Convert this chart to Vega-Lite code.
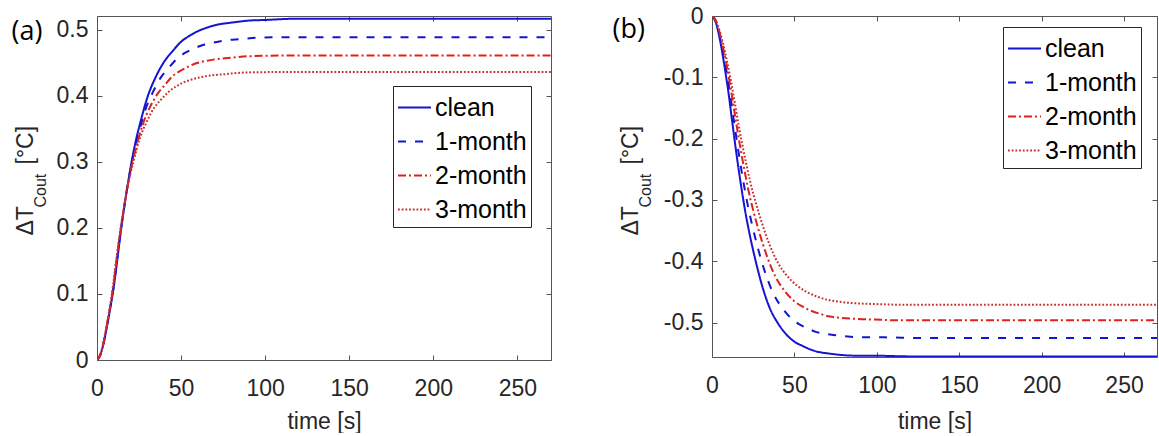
{
"$schema":"https://vega.github.io/schema/vega-lite/v6.json",
"background":"white",
"autosize":{"type":"pad"},
"padding":{"left":11,"top":5,"right":0,"bottom":0},
"spacing":58,
"config":{
"font":"Liberation Sans",
"view":{"stroke":null},
"axis":{"grid":false,"labelFont":"Liberation Sans","labelFontSize":23,"labelColor":"#262626","titleFont":"Liberation Sans","titleFontSize":23,"titleColor":"#262626","titleFontWeight":"normal","domainColor":"#555555","tickColor":"#555555","domainWidth":1,"tickWidth":1,"labelFlush":false,"labelOverlap":false},
"legend":{"symbolType":"stroke","symbolSize":1089,"symbolStrokeWidth":2,"labelFont":"Liberation Sans","labelFontSize":25,"labelColor":"#000000","padding":4,"strokeColor":"#262626","fillColor":"#ffffff","rowPadding":3,"labelOffset":3,"cornerRadius":0}
},
"datasets":{
"a":[
{"s":"clean","t":0,"v":0},{"s":"clean","t":2,"v":0.008},{"s":"clean","t":4,"v":0.026},{"s":"clean","t":6,"v":0.052},{"s":"clean","t":8,"v":0.080},{"s":"clean","t":10,"v":0.111},{"s":"clean","t":12,"v":0.150},{"s":"clean","t":14,"v":0.191},{"s":"clean","t":16,"v":0.228},{"s":"clean","t":18,"v":0.261},{"s":"clean","t":20,"v":0.292},{"s":"clean","t":23,"v":0.331},{"s":"clean","t":26,"v":0.362},{"s":"clean","t":30,"v":0.398},{"s":"clean","t":35,"v":0.429},{"s":"clean","t":40,"v":0.452},{"s":"clean","t":45,"v":0.468},{"s":"clean","t":50,"v":0.482},{"s":"clean","t":55,"v":0.491},{"s":"clean","t":60,"v":0.498},{"s":"clean","t":65,"v":0.503},{"s":"clean","t":70,"v":0.507},{"s":"clean","t":80,"v":0.511},{"s":"clean","t":90,"v":0.514},{"s":"clean","t":100,"v":0.515},{"s":"clean","t":120,"v":0.517},{"s":"clean","t":270,"v":0.517},
{"s":"1-month","t":0,"v":0},{"s":"1-month","t":1.9,"v":0.007},{"s":"1-month","t":3.8,"v":0.024},{"s":"1-month","t":5.7,"v":0.049},{"s":"1-month","t":7.6,"v":0.076},{"s":"1-month","t":9.5,"v":0.105},{"s":"1-month","t":11.4,"v":0.142},{"s":"1-month","t":13.3,"v":0.181},{"s":"1-month","t":15.2,"v":0.215},{"s":"1-month","t":17.1,"v":0.247},{"s":"1-month","t":19,"v":0.276},{"s":"1-month","t":21.9,"v":0.313},{"s":"1-month","t":24.7,"v":0.342},{"s":"1-month","t":28.5,"v":0.377},{"s":"1-month","t":33.3,"v":0.406},{"s":"1-month","t":38,"v":0.428},{"s":"1-month","t":42.8,"v":0.443},{"s":"1-month","t":47.5,"v":0.456},{"s":"1-month","t":52.3,"v":0.465},{"s":"1-month","t":57,"v":0.471},{"s":"1-month","t":61.8,"v":0.476},{"s":"1-month","t":66.5,"v":0.479},{"s":"1-month","t":76,"v":0.484},{"s":"1-month","t":85.5,"v":0.486},{"s":"1-month","t":95,"v":0.488},{"s":"1-month","t":114,"v":0.489},{"s":"1-month","t":270,"v":0.489},
{"s":"2-month","t":0,"v":0},{"s":"2-month","t":1.8,"v":0.007},{"s":"2-month","t":3.6,"v":0.023},{"s":"2-month","t":5.4,"v":0.046},{"s":"2-month","t":7.2,"v":0.071},{"s":"2-month","t":9,"v":0.099},{"s":"2-month","t":10.8,"v":0.134},{"s":"2-month","t":12.6,"v":0.171},{"s":"2-month","t":14.4,"v":0.203},{"s":"2-month","t":16.2,"v":0.233},{"s":"2-month","t":18,"v":0.260},{"s":"2-month","t":20.7,"v":0.295},{"s":"2-month","t":23.4,"v":0.323},{"s":"2-month","t":27,"v":0.355},{"s":"2-month","t":31.5,"v":0.383},{"s":"2-month","t":36,"v":0.403},{"s":"2-month","t":40.5,"v":0.417},{"s":"2-month","t":45,"v":0.430},{"s":"2-month","t":49.5,"v":0.438},{"s":"2-month","t":54,"v":0.444},{"s":"2-month","t":58.5,"v":0.449},{"s":"2-month","t":63,"v":0.452},{"s":"2-month","t":72,"v":0.456},{"s":"2-month","t":81,"v":0.458},{"s":"2-month","t":90,"v":0.460},{"s":"2-month","t":108,"v":0.461},{"s":"2-month","t":270,"v":0.461},
{"s":"3-month","t":0,"v":0},{"s":"3-month","t":1.7,"v":0.007},{"s":"3-month","t":3.4,"v":0.022},{"s":"3-month","t":5.1,"v":0.044},{"s":"3-month","t":6.8,"v":0.068},{"s":"3-month","t":8.5,"v":0.094},{"s":"3-month","t":10.2,"v":0.126},{"s":"3-month","t":11.9,"v":0.161},{"s":"3-month","t":13.6,"v":0.192},{"s":"3-month","t":15.3,"v":0.220},{"s":"3-month","t":17,"v":0.246},{"s":"3-month","t":19.6,"v":0.279},{"s":"3-month","t":22.1,"v":0.305},{"s":"3-month","t":25.5,"v":0.336},{"s":"3-month","t":29.8,"v":0.362},{"s":"3-month","t":34,"v":0.382},{"s":"3-month","t":38.3,"v":0.395},{"s":"3-month","t":42.5,"v":0.406},{"s":"3-month","t":46.8,"v":0.414},{"s":"3-month","t":51,"v":0.420},{"s":"3-month","t":55.3,"v":0.424},{"s":"3-month","t":59.5,"v":0.427},{"s":"3-month","t":68,"v":0.431},{"s":"3-month","t":76.5,"v":0.433},{"s":"3-month","t":85,"v":0.435},{"s":"3-month","t":102,"v":0.436},{"s":"3-month","t":270,"v":0.436}
],
"b":[
{"s":"clean","t":0,"v":0},{"s":"clean","t":2,"v":-0.008},{"s":"clean","t":4,"v":-0.028},{"s":"clean","t":6,"v":-0.056},{"s":"clean","t":8,"v":-0.089},{"s":"clean","t":10,"v":-0.125},{"s":"clean","t":12,"v":-0.167},{"s":"clean","t":14,"v":-0.208},{"s":"clean","t":16,"v":-0.247},{"s":"clean","t":18,"v":-0.283},{"s":"clean","t":20,"v":-0.316},{"s":"clean","t":23,"v":-0.358},{"s":"clean","t":26,"v":-0.394},{"s":"clean","t":30,"v":-0.436},{"s":"clean","t":35,"v":-0.476},{"s":"clean","t":40,"v":-0.501},{"s":"clean","t":45,"v":-0.519},{"s":"clean","t":50,"v":-0.531},{"s":"clean","t":55,"v":-0.538},{"s":"clean","t":60,"v":-0.544},{"s":"clean","t":65,"v":-0.548},{"s":"clean","t":70,"v":-0.550},{"s":"clean","t":80,"v":-0.553},{"s":"clean","t":90,"v":-0.554},{"s":"clean","t":100,"v":-0.554},{"s":"clean","t":120,"v":-0.555},{"s":"clean","t":270,"v":-0.555},
{"s":"1-month","t":0,"v":0},{"s":"1-month","t":2.1,"v":-0.008},{"s":"1-month","t":4.2,"v":-0.026},{"s":"1-month","t":6.3,"v":-0.053},{"s":"1-month","t":8.4,"v":-0.084},{"s":"1-month","t":10.5,"v":-0.118},{"s":"1-month","t":12.6,"v":-0.158},{"s":"1-month","t":14.7,"v":-0.197},{"s":"1-month","t":16.8,"v":-0.234},{"s":"1-month","t":18.9,"v":-0.268},{"s":"1-month","t":21,"v":-0.299},{"s":"1-month","t":24.2,"v":-0.339},{"s":"1-month","t":27.3,"v":-0.373},{"s":"1-month","t":31.5,"v":-0.412},{"s":"1-month","t":36.8,"v":-0.450},{"s":"1-month","t":42,"v":-0.474},{"s":"1-month","t":47.3,"v":-0.491},{"s":"1-month","t":52.5,"v":-0.502},{"s":"1-month","t":57.8,"v":-0.509},{"s":"1-month","t":63,"v":-0.515},{"s":"1-month","t":68.3,"v":-0.518},{"s":"1-month","t":73.5,"v":-0.520},{"s":"1-month","t":84,"v":-0.523},{"s":"1-month","t":94.5,"v":-0.524},{"s":"1-month","t":105,"v":-0.524},{"s":"1-month","t":126,"v":-0.525},{"s":"1-month","t":270,"v":-0.525},
{"s":"2-month","t":0,"v":0},{"s":"2-month","t":2.2,"v":-0.007},{"s":"2-month","t":4.4,"v":-0.025},{"s":"2-month","t":6.6,"v":-0.050},{"s":"2-month","t":8.8,"v":-0.079},{"s":"2-month","t":11,"v":-0.112},{"s":"2-month","t":13.2,"v":-0.149},{"s":"2-month","t":15.4,"v":-0.186},{"s":"2-month","t":17.6,"v":-0.221},{"s":"2-month","t":19.8,"v":-0.253},{"s":"2-month","t":22,"v":-0.283},{"s":"2-month","t":25.3,"v":-0.320},{"s":"2-month","t":28.6,"v":-0.352},{"s":"2-month","t":33,"v":-0.389},{"s":"2-month","t":38.5,"v":-0.425},{"s":"2-month","t":44,"v":-0.448},{"s":"2-month","t":49.5,"v":-0.464},{"s":"2-month","t":55,"v":-0.474},{"s":"2-month","t":60.5,"v":-0.481},{"s":"2-month","t":66,"v":-0.486},{"s":"2-month","t":71.5,"v":-0.490},{"s":"2-month","t":77,"v":-0.492},{"s":"2-month","t":88,"v":-0.494},{"s":"2-month","t":99,"v":-0.495},{"s":"2-month","t":110,"v":-0.496},{"s":"2-month","t":132,"v":-0.496},{"s":"2-month","t":270,"v":-0.496},
{"s":"3-month","t":0,"v":0},{"s":"3-month","t":2.3,"v":-0.007},{"s":"3-month","t":4.6,"v":-0.024},{"s":"3-month","t":6.9,"v":-0.047},{"s":"3-month","t":9.2,"v":-0.075},{"s":"3-month","t":11.5,"v":-0.106},{"s":"3-month","t":13.8,"v":-0.141},{"s":"3-month","t":16.1,"v":-0.177},{"s":"3-month","t":18.4,"v":-0.210},{"s":"3-month","t":20.7,"v":-0.240},{"s":"3-month","t":23,"v":-0.268},{"s":"3-month","t":26.5,"v":-0.304},{"s":"3-month","t":29.9,"v":-0.334},{"s":"3-month","t":34.5,"v":-0.370},{"s":"3-month","t":40.3,"v":-0.404},{"s":"3-month","t":46,"v":-0.425},{"s":"3-month","t":51.8,"v":-0.440},{"s":"3-month","t":57.5,"v":-0.450},{"s":"3-month","t":63.3,"v":-0.457},{"s":"3-month","t":69,"v":-0.462},{"s":"3-month","t":74.8,"v":-0.465},{"s":"3-month","t":80.5,"v":-0.467},{"s":"3-month","t":92,"v":-0.469},{"s":"3-month","t":103.5,"v":-0.470},{"s":"3-month","t":115,"v":-0.471},{"s":"3-month","t":138,"v":-0.471},{"s":"3-month","t":270,"v":-0.471}
]
},
"resolve":{"scale":{"color":"independent","strokeDash":"independent"},"legend":{"color":"independent","strokeDash":"independent"}},
"hconcat":[
{
"width":454,"height":344,
"data":{"name":"a"},
"resolve":{"scale":{"x":"independent","y":"independent"}},
"layer":[
{"mark":{"type":"line","strokeWidth":2,"interpolate":"monotone","clip":true},
"encoding":{
"x":{"field":"t","type":"quantitative","scale":{"domain":[0,270],"nice":false,"zero":false},"axis":{"orient":"bottom","values":[0,50,100,150,200,250],"format":"d","title":"time [s]","tickSize":-5,"labelPadding":22,"titleX":227,"titleY":68,"titleAlign":"center","titleBaseline":"alphabetic"}},
"y":{"field":"v","type":"quantitative","scale":{"domain":[0,0.521],"nice":false,"zero":false},"axis":{"orient":"left","values":[0,0.1,0.2,0.3,0.4,0.5],"format":"~g","title":"ΔT","tickSize":-5,"labelPadding":14,"titleX":-65,"titleY":219,"titleAlign":"left","titleBaseline":"alphabetic","titleAngle":270}},
"color":{"field":"s","type":"nominal","scale":{"domain":["clean","1-month","2-month","3-month"],"range":["#1414d2","#1414d2","#e02020","#c8302c"]},"legend":{"orient":"none","legendX":296,"legendY":70,"title":null}},
"strokeDash":{"field":"s","type":"nominal","scale":{"domain":["clean","1-month","2-month","3-month"],"range":[[1,0],[8,9],[8,3,2,3],[1.8,1.9]]},"legend":{"orient":"none","legendX":296,"legendY":70,"title":null}}
}},
{"mark":{"type":"point","opacity":0},
"encoding":{
"x":{"field":"t","type":"quantitative","scale":{"domain":[0,270],"nice":false,"zero":false},"axis":{"orient":"top","values":[0,50,100,150,200,250],"labels":false,"tickSize":-5,"title":"(a)","titleFont":"Open Sans","titleFontSize":27,"titleColor":"#000000","titleAngle":0,"titleX":-86,"titleY":23,"titleAlign":"left","titleBaseline":"alphabetic"}},
"y":{"field":"v","type":"quantitative","scale":{"domain":[0,0.521],"nice":false,"zero":false},"axis":{"orient":"right","values":[0,0.1,0.2,0.3,0.4,0.5],"labels":false,"tickSize":-5,"title":null}}
}},
{"mark":{"type":"point","opacity":0},
"encoding":{
"x":{"field":"t","type":"quantitative","scale":{"domain":[0,270],"nice":false,"zero":false},"axis":null},
"y":{"field":"v","type":"quantitative","scale":{"domain":[0,0.521],"nice":false,"zero":false},"axis":{"orient":"left","labels":false,"ticks":false,"domain":false,"title":"Cout","titleFontSize":16,"titleX":-52,"titleY":191,"titleAlign":"left","titleBaseline":"alphabetic","titleAngle":270}}
}},
{"mark":{"type":"point","opacity":0},
"encoding":{
"x":{"field":"t","type":"quantitative","scale":{"domain":[0,270],"nice":false,"zero":false},"axis":null},
"y":{"field":"v","type":"quantitative","scale":{"domain":[0,0.521],"nice":false,"zero":false},"axis":{"orient":"left","labels":false,"ticks":false,"domain":false,"title":"[°C]","titleX":-65,"titleY":148,"titleAlign":"left","titleBaseline":"alphabetic","titleAngle":270}}
}}
]
},
{
"width":445,"height":341,
"data":{"name":"b"},
"resolve":{"scale":{"x":"independent","y":"independent"}},
"layer":[
{"mark":{"type":"line","strokeWidth":2,"interpolate":"monotone","clip":true},
"encoding":{
"x":{"field":"t","type":"quantitative","scale":{"domain":[0,270],"nice":false,"zero":false},"axis":{"orient":"bottom","values":[0,50,100,150,200,250],"format":"d","title":"time [s]","tickSize":-5,"labelPadding":22,"titleX":222.5,"titleY":71,"titleAlign":"center","titleBaseline":"alphabetic"}},
"y":{"field":"v","type":"quantitative","scale":{"domain":[-0.556,0],"nice":false,"zero":false},"axis":{"orient":"left","values":[0,-0.1,-0.2,-0.3,-0.4,-0.5],"labelExpr":"replace(format(datum.value,'~g'),'−','-')","title":"ΔT","tickSize":-5,"labelPadding":14,"titleX":-75,"titleY":219,"titleAlign":"left","titleBaseline":"alphabetic","titleAngle":270}},
"color":{"field":"s","type":"nominal","scale":{"domain":["clean","1-month","2-month","3-month"],"range":["#1414d2","#1414d2","#e02020","#c8302c"]},"legend":{"orient":"none","legendX":291,"legendY":11,"title":null}},
"strokeDash":{"field":"s","type":"nominal","scale":{"domain":["clean","1-month","2-month","3-month"],"range":[[1,0],[8,9],[8,3,2,3],[1.8,1.9]]},"legend":{"orient":"none","legendX":291,"legendY":11,"title":null}}
}},
{"mark":{"type":"point","opacity":0},
"encoding":{
"x":{"field":"t","type":"quantitative","scale":{"domain":[0,270],"nice":false,"zero":false},"axis":{"orient":"top","values":[0,50,100,150,200,250],"labels":false,"tickSize":-5,"title":"(b)","titleFont":"Open Sans","titleFontSize":27,"titleColor":"#000000","titleAngle":0,"titleX":-100,"titleY":21,"titleAlign":"left","titleBaseline":"alphabetic"}},
"y":{"field":"v","type":"quantitative","scale":{"domain":[-0.556,0],"nice":false,"zero":false},"axis":{"orient":"right","values":[0,-0.1,-0.2,-0.3,-0.4,-0.5],"labels":false,"tickSize":-5,"title":null}}
}},
{"mark":{"type":"point","opacity":0},
"encoding":{
"x":{"field":"t","type":"quantitative","scale":{"domain":[0,270],"nice":false,"zero":false},"axis":null},
"y":{"field":"v","type":"quantitative","scale":{"domain":[-0.556,0],"nice":false,"zero":false},"axis":{"orient":"left","labels":false,"ticks":false,"domain":false,"title":"Cout","titleFontSize":16,"titleX":-62,"titleY":191,"titleAlign":"left","titleBaseline":"alphabetic","titleAngle":270}}
}},
{"mark":{"type":"point","opacity":0},
"encoding":{
"x":{"field":"t","type":"quantitative","scale":{"domain":[0,270],"nice":false,"zero":false},"axis":null},
"y":{"field":"v","type":"quantitative","scale":{"domain":[-0.556,0],"nice":false,"zero":false},"axis":{"orient":"left","labels":false,"ticks":false,"domain":false,"title":"[°C]","titleX":-75,"titleY":148,"titleAlign":"left","titleBaseline":"alphabetic","titleAngle":270}}
}}
]
}
]
}
